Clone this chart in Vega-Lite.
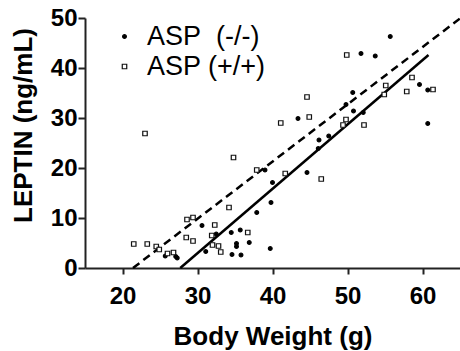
{
  "$schema": "https://vega.github.io/schema/vega-lite/v6.json",
  "width": 375,
  "height": 250,
  "autosize": {"type": "none"},
  "padding": {"left": 85, "top": 18, "right": 0, "bottom": 83},
  "background": "white",
  "config": {
    "view": {"stroke": null},
    "axis": {
      "grid": false,
      "domainColor": "#222",
      "domainWidth": 2,
      "tickColor": "#222",
      "tickWidth": 2,
      "labelFont": "Liberation Sans",
      "labelFontSize": 24,
      "labelFontWeight": "bold",
      "labelColor": "black",
      "titleFont": "Liberation Sans",
      "titleFontSize": 26,
      "titleFontWeight": "bold",
      "titleColor": "black"
    },
    "legend": {
      "labelFont": "Liberation Sans",
      "labelFontSize": 27,
      "labelColor": "black",
      "orient": "none",
      "legendX": 26,
      "legendY": 5,
      "labelOffset": 9,
      "rowPadding": 2,
      "padding": 0,
      "symbolStrokeWidth": 1.2,
      "symbolStrokeColor": "black"
    }
  },
  "datasets": {
    "points": [
      {"weight": 55.7, "leptin": 46.3, "group": "ASP\u00a0 (-/-)"},
      {"weight": 51.8, "leptin": 42.9, "group": "ASP\u00a0 (-/-)"},
      {"weight": 53.7, "leptin": 42.4, "group": "ASP\u00a0 (-/-)"},
      {"weight": 59.6, "leptin": 36.7, "group": "ASP\u00a0 (-/-)"},
      {"weight": 60.7, "leptin": 35.6, "group": "ASP\u00a0 (-/-)"},
      {"weight": 60.7, "leptin": 28.9, "group": "ASP\u00a0 (-/-)"},
      {"weight": 50.7, "leptin": 35.1, "group": "ASP\u00a0 (-/-)"},
      {"weight": 49.8, "leptin": 32.7, "group": "ASP\u00a0 (-/-)"},
      {"weight": 50.8, "leptin": 31.4, "group": "ASP\u00a0 (-/-)"},
      {"weight": 52.1, "leptin": 31.1, "group": "ASP\u00a0 (-/-)"},
      {"weight": 43.4, "leptin": 29.9, "group": "ASP\u00a0 (-/-)"},
      {"weight": 46.2, "leptin": 25.6, "group": "ASP\u00a0 (-/-)"},
      {"weight": 47.5, "leptin": 26.4, "group": "ASP\u00a0 (-/-)"},
      {"weight": 46.1, "leptin": 23.9, "group": "ASP\u00a0 (-/-)"},
      {"weight": 39.0, "leptin": 19.6, "group": "ASP\u00a0 (-/-)"},
      {"weight": 44.6, "leptin": 19.1, "group": "ASP\u00a0 (-/-)"},
      {"weight": 40.0, "leptin": 17.1, "group": "ASP\u00a0 (-/-)"},
      {"weight": 39.8, "leptin": 13.1, "group": "ASP\u00a0 (-/-)"},
      {"weight": 37.9, "leptin": 11.1, "group": "ASP\u00a0 (-/-)"},
      {"weight": 30.6, "leptin": 8.5, "group": "ASP\u00a0 (-/-)"},
      {"weight": 32.5, "leptin": 6.8, "group": "ASP\u00a0 (-/-)"},
      {"weight": 34.5, "leptin": 7.1, "group": "ASP\u00a0 (-/-)"},
      {"weight": 35.7, "leptin": 7.6, "group": "ASP\u00a0 (-/-)"},
      {"weight": 35.2, "leptin": 4.9, "group": "ASP\u00a0 (-/-)"},
      {"weight": 35.2, "leptin": 4.3, "group": "ASP\u00a0 (-/-)"},
      {"weight": 36.9, "leptin": 5.1, "group": "ASP\u00a0 (-/-)"},
      {"weight": 39.7, "leptin": 3.9, "group": "ASP\u00a0 (-/-)"},
      {"weight": 31.1, "leptin": 3.3, "group": "ASP\u00a0 (-/-)"},
      {"weight": 34.6, "leptin": 2.7, "group": "ASP\u00a0 (-/-)"},
      {"weight": 35.8, "leptin": 2.6, "group": "ASP\u00a0 (-/-)"},
      {"weight": 25.7, "leptin": 2.4, "group": "ASP\u00a0 (-/-)"},
      {"weight": 27.1, "leptin": 2.3, "group": "ASP\u00a0 (-/-)"},
      {"weight": 27.3, "leptin": 2.0, "group": "ASP\u00a0 (-/-)"},
      {"weight": 49.9, "leptin": 42.6, "group": "ASP (+/+)"},
      {"weight": 58.6, "leptin": 38.1, "group": "ASP (+/+)"},
      {"weight": 61.4, "leptin": 35.7, "group": "ASP (+/+)"},
      {"weight": 57.9, "leptin": 35.3, "group": "ASP (+/+)"},
      {"weight": 55.1, "leptin": 36.5, "group": "ASP (+/+)"},
      {"weight": 54.9, "leptin": 34.7, "group": "ASP (+/+)"},
      {"weight": 49.8, "leptin": 29.7, "group": "ASP (+/+)"},
      {"weight": 49.4, "leptin": 28.6, "group": "ASP (+/+)"},
      {"weight": 52.2, "leptin": 28.6, "group": "ASP (+/+)"},
      {"weight": 44.6, "leptin": 34.2, "group": "ASP (+/+)"},
      {"weight": 44.9, "leptin": 30.2, "group": "ASP (+/+)"},
      {"weight": 41.1, "leptin": 29.0, "group": "ASP (+/+)"},
      {"weight": 34.8, "leptin": 22.1, "group": "ASP (+/+)"},
      {"weight": 37.9, "leptin": 19.6, "group": "ASP (+/+)"},
      {"weight": 41.7, "leptin": 18.9, "group": "ASP (+/+)"},
      {"weight": 46.5, "leptin": 17.8, "group": "ASP (+/+)"},
      {"weight": 34.2, "leptin": 12.1, "group": "ASP (+/+)"},
      {"weight": 32.3, "leptin": 8.6, "group": "ASP (+/+)"},
      {"weight": 31.9, "leptin": 6.5, "group": "ASP (+/+)"},
      {"weight": 36.7, "leptin": 7.1, "group": "ASP (+/+)"},
      {"weight": 32.0, "leptin": 4.6, "group": "ASP (+/+)"},
      {"weight": 32.8, "leptin": 4.4, "group": "ASP (+/+)"},
      {"weight": 33.1, "leptin": 3.2, "group": "ASP (+/+)"},
      {"weight": 21.5, "leptin": 4.8, "group": "ASP (+/+)"},
      {"weight": 23.3, "leptin": 4.8, "group": "ASP (+/+)"},
      {"weight": 24.5, "leptin": 4.3, "group": "ASP (+/+)"},
      {"weight": 24.9, "leptin": 3.7, "group": "ASP (+/+)"},
      {"weight": 26.0, "leptin": 2.9, "group": "ASP (+/+)"},
      {"weight": 26.8, "leptin": 3.1, "group": "ASP (+/+)"},
      {"weight": 28.6, "leptin": 9.7, "group": "ASP (+/+)"},
      {"weight": 29.4, "leptin": 10.1, "group": "ASP (+/+)"},
      {"weight": 28.5, "leptin": 6.1, "group": "ASP (+/+)"},
      {"weight": 29.4, "leptin": 5.4, "group": "ASP (+/+)"},
      {"weight": 23.0, "leptin": 26.9, "group": "ASP (+/+)"}
    ],
    "fits": [
      {"weight": 27.7, "leptin": 0, "group": "ASP\u00a0 (-/-)"},
      {"weight": 60.8, "leptin": 42.6, "group": "ASP\u00a0 (-/-)"},
      {"weight": 21.4, "leptin": 0, "group": "ASP (+/+)"},
      {"weight": 65, "leptin": 49.9, "group": "ASP (+/+)"}
    ]
  },
  "encoding": {
    "x": {
      "field": "weight",
      "type": "quantitative",
      "scale": {"domain": [15, 65], "nice": false, "zero": false},
      "axis": {"title": "Body Weight (g)", "values": [20, 30, 40, 50, 60], "tickSize": 6, "labelPadding": 10, "titlePadding": 15}
    },
    "y": {
      "field": "leptin",
      "type": "quantitative",
      "scale": {"domain": [0, 50], "nice": false},
      "axis": {"title": "LEPTIN (ng/mL)", "values": [0, 10, 20, 30, 40, 50], "tickSize": 7, "labelPadding": 1, "titlePadding": 14, "titleY": 107}
    }
  },
  "layer": [
    {
      "data": {"name": "fits"},
      "transform": [{"filter": "datum.group !== 'ASP (+/+)'"}],
      "mark": {"type": "line", "color": "black", "strokeWidth": 2.5},
      "encoding": {}
    },
    {
      "data": {"name": "fits"},
      "transform": [{"filter": "datum.group === 'ASP (+/+)'"}],
      "mark": {"type": "line", "color": "black", "strokeWidth": 2.5, "strokeDash": [8, 5]},
      "encoding": {}
    },
    {
      "data": {"name": "points"},
      "mark": {"type": "point", "strokeWidth": 1.2, "opacity": 1},
      "encoding": {
        "shape": {
          "field": "group",
          "type": "nominal",
          "scale": {"domain": ["ASP\u00a0 (-/-)", "ASP (+/+)"], "range": ["circle", "square"]},
          "legend": {"title": null}
        },
        "fill": {
          "field": "group",
          "type": "nominal",
          "scale": {"domain": ["ASP\u00a0 (-/-)", "ASP (+/+)"], "range": ["black", "white"]},
          "legend": {"title": null}
        },
        "stroke": {
          "field": "group",
          "type": "nominal",
          "scale": {"domain": ["ASP\u00a0 (-/-)", "ASP (+/+)"], "range": ["black", "#111"]},
          "legend": {"title": null}
        },
        "size": {
          "field": "group",
          "type": "nominal",
          "scale": {"domain": ["ASP\u00a0 (-/-)", "ASP (+/+)"], "range": [14, 20]},
          "legend": {"title": null}
        }
      }
    }
  ]
}
